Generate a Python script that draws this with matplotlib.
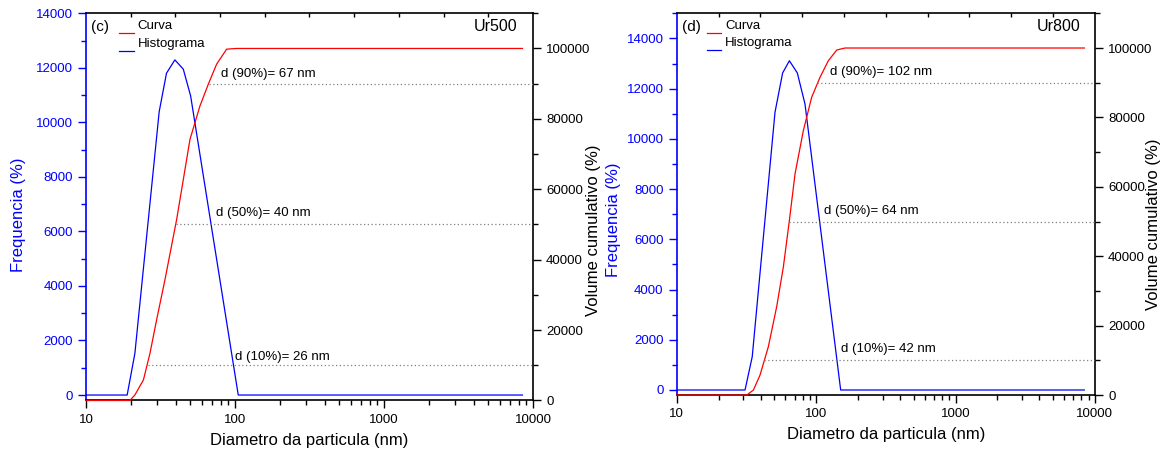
import matplotlib
matplotlib.use('Agg')
import matplotlib.pyplot as plt
from matplotlib.ticker import MultipleLocator, LogLocator, NullFormatter

plt.rcParams['font.family'] = ['Liberation Sans', 'DejaVu Sans']

PCT = [10, 50, 90]

# (c) Ur500
D_UR500_HIST = [10, 18.9, 21.3, 31.0, 34.7, 39.5, 45.0, 50.4, 105.2, 8500]
F_UR500_HIST = [0, 0, 1530, 10390, 11800, 12290, 11950, 10970, 0, 0]
D_UR500_CUM = [10, 19.7, 21.3, 24.3, 26.9, 29.8, 33.9, 40.6, 44.5, 49.9, 58.2,
               66.2, 75.3, 87.9, 102.5, 8500]
V_UR500_CUM = [0, 0, 1566, 5837, 13440, 22920, 34310, 51400, 61500, 74170, 83660,
               89830, 95530, 99800, 100000, 100000]
D_UR500 = [26, 40, 67]

# (d) Ur800
D_UR800_HIST = [10, 30.9, 34.8, 50.7, 57.5, 64.3, 73.3, 83.2, 150, 8400]
F_UR800_HIST = [0, 0, 1323, 11060, 12625, 13110, 12625, 11390, 0, 0]
D_UR800_CUM = [10, 31.8, 35.5, 39.6, 45.4, 52.1, 58.2, 64.3, 70.6, 81.0, 92.9,
               106.6, 122.4, 140.6, 161, 8400]
V_UR800_CUM = [0, 0, 1438, 5752, 13890, 25400, 36900, 50330, 63760, 76220, 85800,
               91550, 96350, 99420, 100000, 100000]
D_UR800 = [42, 64, 102]

# where the d(x%) labels sit (diameter, volume)
LBL_UR500 = [(100.6, 12470), (74.8, 53390), (80.7, 92680)]
LBL_UR800 = [(150, 13140), (114.8, 53000), (126.8, 92990)]


def draw_panel(ax, d_hist, f_hist, d_cum, v_cum, d_vals, lbl_xy, f_top, letter, sample):
    ax2 = ax.twinx()
    ax3 = ax.twiny()

    ax.plot(d_hist, f_hist, color='blue', lw=0.9)
    ax2.plot(d_cum, v_cum, color='red', lw=0.9, clip_on=False)
    for d, p, (tx, ty) in zip(d_vals, PCT, lbl_xy):
        ax2.plot([d, 10000], [p * 1000, p * 1000], color='#808080', ls=(0, (1, 2)), lw=0.9)
        ax2.text(tx, ty, 'd ({}%)= {} nm'.format(p, d), fontsize=9.5, va='center')

    ax.set_xscale('log')
    ax.set_xlim(10, 10000)
    ax.set_ylim(-200, f_top)
    ax2.set_ylim(0, 110000)

    ax.set_xticks([10, 100, 1000, 10000])
    ax.set_xticklabels(['10', '100', '1000', '10000'])
    ax.xaxis.set_minor_locator(LogLocator(base=10, subs=range(2, 10)))
    ax.xaxis.set_minor_formatter(NullFormatter())
    ax.yaxis.set_major_locator(MultipleLocator(2000))
    ax.yaxis.set_minor_locator(MultipleLocator(1000))
    ax2.yaxis.set_major_locator(MultipleLocator(20000))
    ax2.yaxis.set_minor_locator(MultipleLocator(10000))

    ax.tick_params(axis='both', which='major', direction='out', length=6, width=1, labelsize=9.5)
    ax.tick_params(axis='both', which='minor', direction='out', length=3.5, width=1)
    ax.tick_params(axis='y', which='both', colors='blue')
    ax2.tick_params(axis='y', which='major', direction='out', length=6, width=1, labelsize=9.5)
    ax2.tick_params(axis='y', which='minor', direction='out', length=3.5, width=1)

    # plain ticks along the top edge
    ax3.set_xlim(0, 10)
    ax3.set_xticks(range(1, 10))
    ax3.tick_params(axis='x', direction='in', length=3, width=1, labeltop=False)

    for a in (ax2, ax3):
        for s in a.spines.values():
            s.set_visible(False)
    for s in ax.spines.values():
        s.set_linewidth(1.2)
    ax.spines['left'].set_color('blue')

    ax.set_xlabel('Diametro da particula (nm)', fontsize=12)
    ax.xaxis.set_label_coords(0.5, -0.085)
    ax.set_ylabel('Frequencia (%)', fontsize=12, color='blue')
    ax2.set_ylabel('Volume cumulativo (%)', fontsize=12)

    ax.text(0.012, 0.965, letter, transform=ax.transAxes, fontsize=11, va='center')
    ax.text(0.966, 0.965, sample, transform=ax.transAxes, fontsize=11.5, va='center', ha='right')

    # legend keys drawn as short underlines next to the names
    for y_txt, y_key, col, name in [(0.968, 0.949, 'red', 'Curva'),
                                    (0.921, 0.903, 'blue', 'Histograma')]:
        ax.plot([0.073, 0.107], [y_key, y_key], color=col, lw=0.9, transform=ax.transAxes)
        ax.text(0.116, y_txt, name, transform=ax.transAxes, fontsize=9.5, va='center')
    return ax2


fig = plt.figure(figsize=(11.68, 4.59), dpi=100)
ax_c = fig.add_axes([0.0736, 0.1275, 0.3827, 0.8436])
ax_d = fig.add_axes([0.5794, 0.1394, 0.3580, 0.8316])

ax_c2 = draw_panel(ax_c, D_UR500_HIST, F_UR500_HIST, D_UR500_CUM, V_UR500_CUM,
                   D_UR500, LBL_UR500, 14000, '(c)', 'Ur500')
ax_d2 = draw_panel(ax_d, D_UR800_HIST, F_UR800_HIST, D_UR800_CUM, V_UR800_CUM,
                   D_UR800, LBL_UR800, 15000, '(d)', 'Ur800')

ax_c.yaxis.set_label_coords(-0.134, 0.479)
ax_c2.yaxis.set_label_coords(1.119, 0.44)
ax_d.yaxis.set_label_coords(-0.133, 0.458)
ax_d2.yaxis.set_label_coords(1.122, 0.448)

plt.savefig('out.png', dpi=100)
